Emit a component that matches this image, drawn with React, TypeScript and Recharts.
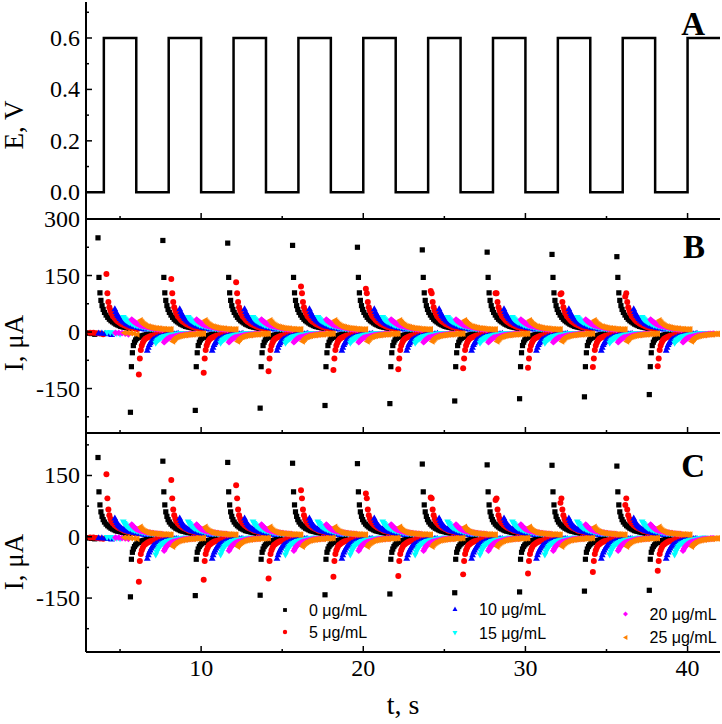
import { ScatterChart, Scatter, LineChart, Line, XAxis, YAxis, Legend } from 'recharts'

const SERIF = '"Liberation Serif", "Times New Roman", serif'
const SANS = '"Liberation Sans", Arial, sans-serif'

// shared time axis, s
const T_DOMAIN = [2.9, 42]
const T_TICKS = [5, 10, 15, 20, 25, 30, 35, 40]

// panel A: potential steps
const E_T = [2.9, 4, 6, 8, 10, 12, 14, 16, 18, 20, 22, 24, 26, 28, 30, 32, 34, 36, 38, 40, 42]
const E_V = [0, 0.6, 0, 0.6, 0, 0.6, 0, 0.6, 0, 0.6, 0, 0.6, 0, 0.6, 0, 0.6, 0, 0.6, 0, 0.6, 0.6]
const E_TICKS = [0, 0.1, 0.2, 0.3, 0.4, 0.5, 0.6, 0.7]

// current transients (panels B and C)
const SERIES_NAMES = ['0 μg/mL', '5 μg/mL', '10 μg/mL', '15 μg/mL', '20 μg/mL', '25 μg/mL']
const SERIES_COLORS = ['#000000', '#ff0000', '#0000ff', '#00ffff', '#ff00ff', '#ff8000']
const SERIES_MARKERS = ['square', 'circle', 'up', 'down', 'diamond', 'left']
const SERIES_SHIFT = [0, 0.52, 1.04, 1.56, 2.08, 2.6]
const PULSE_START = [3.64, 7.64, 11.64, 15.64, 19.64, 23.64, 27.64, 31.64, 35.64]
const HALF_PERIOD = 2
const TAIL_T = [0, 0.06, 0.12, 0.18, 0.25, 0.32, 0.4, 0.5, 0.6, 0.7, 0.8, 0.9, 1.0, 1.1, 1.2, 1.3, 1.4, 1.5, 1.6, 1.7, 1.8, 1.9]
const REST_T = [-1.0, -0.8, -0.6, -0.4, -0.2]

const I_TICKS_B = [-225, -150, -75, 0, 75, 150, 225, 300]
const I_TICKS_C = [-225, -150, -75, 0, 75, 150, 225]

const REST_B = [-2, -2, -3, -4, -6]
const POS_B = [
  [250, 145, 104, 84, 70, 60, 52, 45, 39, 34, 30, 27, 24, 21, 19, 17, 15, 14, 13, 12, 11, 10],
  [154, 103, 80, 66, 57, 49, 42, 37, 32, 28, 25, 22, 20, 18, 16, 14, 13, 12, 11, 10, 9, 8],
  [62, 55, 49, 44, 40, 36, 32, 29, 26, 23, 21, 19, 17, 16, 15, 14, 13, 12, 11, 10, 9, 8],
  [38, 35, 32, 30, 28, 26, 24, 22, 20, 18, 17, 16, 15, 14, 13, 12, 11, 10, 9, 8, 8, 7],
  [33, 30, 28, 26, 24, 22, 20, 18, 17, 16, 15, 14, 13, 12, 11, 10, 9, 8, 8, 7, 7, 6],
  [31, 27, 24, 21, 19, 17, 15, 14, 13, 12, 11, 10, 10, 9, 9, 8, 8, 8, 7, 7, 7, 7],
]
const NEG_B = [
  [-213, -92, -55, -36, -27, -21, -17, -14, -12, -10, -9, -8, -7, -6, -6, -5, -5, -4, -4, -4, -3, -3],
  [-113, -70, -48, -36, -28, -22, -18, -15, -13, -11, -10, -9, -8, -7, -6, -6, -5, -5, -4, -4, -4, -3],
  [-48, -40, -33, -28, -24, -21, -18, -16, -14, -12, -11, -10, -9, -8, -7, -6, -6, -5, -5, -4, -4, -3],
  [-30, -26, -23, -21, -19, -17, -15, -13, -12, -11, -10, -9, -8, -7, -7, -6, -6, -5, -5, -4, -4, -4],
  [-27, -24, -21, -19, -17, -15, -14, -13, -12, -11, -10, -9, -8, -8, -7, -7, -6, -6, -5, -5, -5, -4],
  [-25, -21, -18, -15, -13, -12, -11, -10, -9, -8, -8, -7, -7, -6, -6, -6, -5, -5, -5, -5, -4, -4],
]
const BLACK_POS_PEAK_B = [250, 243, 236, 230, 225, 218, 212, 206, 200]
const BLACK_NEG_PEAK_B = [-213, -208, -202, -195, -190, -183, -177, -172, -166]
const RED_POS_PEAK_B = [154, 141, 132, 121, 115, 109, 103, 100, 94]
const RED_NEG_PEAK_B = [-113, -108, -104, -101, -99, -96, -95, -93, -91]

const REST_C = [-2, -2, -3, -4, -5]
const POS_C = [
  [194, 110, 78, 61, 50, 42, 36, 31, 27, 24, 21, 19, 17, 15, 14, 13, 12, 11, 10, 9, 8, 8],
  [153, 94, 67, 53, 44, 38, 33, 29, 26, 23, 21, 19, 17, 15, 14, 13, 12, 11, 10, 9, 8, 8],
  [46, 40, 35, 31, 28, 25, 22, 20, 18, 16, 15, 14, 13, 12, 11, 10, 9, 8, 8, 7, 7, 6],
  [36, 32, 29, 26, 24, 22, 20, 18, 16, 15, 14, 13, 12, 11, 10, 9, 9, 8, 8, 7, 7, 6],
  [30, 27, 24, 22, 20, 18, 17, 15, 14, 13, 12, 11, 10, 10, 9, 9, 8, 8, 7, 7, 6, 6],
  [24, 20, 17, 15, 13, 12, 11, 10, 9, 9, 8, 8, 7, 7, 7, 6, 6, 6, 6, 5, 5, 5],
]
const NEG_C = [
  [-147, -55, -38, -30, -24, -20, -17, -14, -12, -10, -9, -8, -7, -6, -6, -5, -5, -4, -4, -4, -3, -3],
  [-110, -59, -42, -33, -26, -21, -18, -15, -13, -11, -10, -9, -8, -7, -6, -6, -5, -5, -4, -4, -4, -3],
  [-52, -44, -37, -32, -27, -23, -20, -17, -15, -13, -11, -10, -9, -8, -7, -6, -6, -5, -5, -4, -4, -4],
  [-45, -38, -33, -28, -24, -21, -18, -16, -14, -12, -11, -10, -9, -8, -7, -6, -6, -5, -5, -4, -4, -4],
  [-34, -29, -25, -22, -19, -17, -15, -13, -12, -11, -10, -9, -8, -7, -6, -6, -5, -5, -5, -4, -4, -4],
  [-24, -20, -17, -15, -13, -11, -10, -9, -8, -7, -7, -6, -6, -5, -5, -5, -4, -4, -4, -4, -3, -3],
]
const BLACK_POS_PEAK_C = [194, 185, 182, 180, 179, 178, 176, 175, 173]
const BLACK_NEG_PEAK_C = [-147, -144, -143, -142, -140, -137, -135, -133, -131]
const RED_POS_PEAK_C = [153, 139, 126, 114, 106, 96, 90, 83, 78]
const RED_NEG_PEAK_C = [-110, -105, -102, -98, -96, -92, -90, -86, -83]

type Pt = { t: number; i: number }

// lay each series' transient shape onto every pulse; the first point of the
// black and red transients is taken per pulse since it drifts down over time
function buildCurrent(
  pos: number[][],
  neg: number[][],
  rest: number[],
  posPeaks: (number[] | null)[],
  negPeaks: (number[] | null)[],
): Pt[][] {
  return SERIES_NAMES.map((_, s) => {
    const pts: Pt[] = []
    const first = PULSE_START[0] + SERIES_SHIFT[s]
    REST_T.forEach((dt, j) => pts.push({ t: first + dt, i: rest[j] }))
    PULSE_START.forEach((p, k) => {
      const t0 = p + SERIES_SHIFT[s]
      const pp = posPeaks[s]
      const np = negPeaks[s]
      TAIL_T.forEach((dt, j) => pts.push({ t: t0 + dt, i: j === 0 && pp ? pp[k] : pos[s][j] }))
      TAIL_T.forEach((dt, j) =>
        pts.push({ t: t0 + HALF_PERIOD + dt, i: j === 0 && np ? np[k] : neg[s][j] }),
      )
    })
    return pts
  })
}

const DATA_B = buildCurrent(
  POS_B, NEG_B, REST_B,
  [BLACK_POS_PEAK_B, RED_POS_PEAK_B, null, null, null, null],
  [BLACK_NEG_PEAK_B, RED_NEG_PEAK_B, null, null, null, null],
)
const DATA_C = buildCurrent(
  POS_C, NEG_C, REST_C,
  [BLACK_POS_PEAK_C, RED_POS_PEAK_C, null, null, null, null],
  [BLACK_NEG_PEAK_C, RED_NEG_PEAK_C, null, null, null, null],
)
const DATA_E = E_T.map((t, k) => ({ t, e: E_V[k] }))

function Marker({ kind, cx, cy, color, r }: { kind: string; cx: number; cy: number; color: string; r: number }) {
  switch (kind) {
    case 'square':
      return <rect x={cx - r} y={cy - r} width={2 * r} height={2 * r} fill={color} />
    case 'circle':
      return <circle cx={cx} cy={cy} r={r * 1.15} fill={color} />
    case 'up':
      return <polygon points={`${cx},${cy - 1.3 * r} ${cx + 1.3 * r},${cy + r} ${cx - 1.3 * r},${cy + r}`} fill={color} />
    case 'down':
      return <polygon points={`${cx},${cy + 1.3 * r} ${cx + 1.3 * r},${cy - r} ${cx - 1.3 * r},${cy - r}`} fill={color} />
    case 'diamond':
      return <polygon points={`${cx},${cy - 1.3 * r} ${cx + 1.3 * r},${cy} ${cx},${cy + 1.3 * r} ${cx - 1.3 * r},${cy}`} fill={color} />
    default:
      return <polygon points={`${cx - 1.3 * r},${cy} ${cx + r},${cy - 1.3 * r} ${cx + r},${cy + 1.3 * r}`} fill={color} />
  }
}

function XTick(props: any) {
  const { x, y, payload, showLabel } = props
  const major = payload.value % 10 === 0
  return (
    <g>
      <line x1={x} x2={x} y1={y} y2={y - (major ? 6 : 3)} stroke="#000" strokeWidth={1.5} />
      {showLabel && major && (
        <text x={x} y={y + 24} textAnchor="middle" style={{ fontFamily: SERIF, fontSize: 24 }} fill="#000">
          {payload.value}
        </text>
      )}
    </g>
  )
}

function YTick(props: any) {
  const { x, y, payload, isMajor, fmt } = props
  const major = isMajor(payload.value)
  return (
    <g>
      <line x1={x} x2={x + (major ? 6 : 3)} y1={y} y2={y} stroke="#000" strokeWidth={1.5} />
      {major && (
        <text x={x - 6} y={y + 8} textAnchor="end" style={{ fontFamily: SERIF, fontSize: 24 }} fill="#000">
          {fmt(payload.value)}
        </text>
      )}
    </g>
  )
}

const axisLine = { stroke: '#000', strokeWidth: 2 }
const W = 722
const H = 724

function timeAxis(showLabel: boolean, height: number) {
  return (
    <XAxis
      dataKey="t"
      type="number"
      domain={T_DOMAIN}
      ticks={T_TICKS}
      interval={0}
      allowDataOverflow
      height={height}
      tickSize={0}
      tickMargin={0}
      tickLine={false}
      axisLine={axisLine}
      tick={(p: any) => <XTick {...p} showLabel={showLabel} />}
    />
  )
}

function rightBorder() {
  return <YAxis yAxisId="r" orientation="right" type="number" domain={[0, 1]} width={0} tick={false} tickLine={false} axisLine={axisLine} />
}

const isMajorE = (v: number) => Math.round(v * 10) % 2 === 0
const isMajorI = (v: number) => v % 150 === 0

const LEGEND_X = [285, 455, 625.5]
const LEGEND_Y = [[610, 632], [609, 633], [614, 637.5]]

function LegendGrid({ payload }: any) {
  return (
    <svg width={W} height={H} style={{ position: 'absolute', left: 0, top: 0 }}>
      {(payload ?? []).map((entry: any) => {
        const s = SERIES_NAMES.indexOf(entry.value)
        if (s < 0) return null
        const col = Math.floor(s / 2)
        const row = s % 2
        const mx = LEGEND_X[col]
        const my = LEGEND_Y[col][row]
        return (
          <g key={entry.value}>
            <Marker kind={SERIES_MARKERS[s]} cx={mx} cy={my} color={SERIES_COLORS[s]} r={1.9} />
            <text x={mx + 24} y={my + 5.5} style={{ fontFamily: SANS, fontSize: 16 }} fill="#000">
              {entry.value}
            </text>
          </g>
        )
      })}
    </svg>
  )
}

function CurrentScatters({ data }: { data: Pt[][] }) {
  return (
    <>
      {data.map((pts, s) => (
        <Scatter
          key={SERIES_NAMES[s]}
          name={SERIES_NAMES[s]}
          data={pts}
          fill={SERIES_COLORS[s]}
          isAnimationActive={false}
          shape={(p: any) => <Marker kind={SERIES_MARKERS[s]} cx={p.cx} cy={p.cy} color={SERIES_COLORS[s]} r={2.6} />}
        />
      ))}
    </>
  )
}

const layer: React.CSSProperties = { position: 'absolute', left: 0, top: 0 }

export default function App() {
  return (
    <div style={{ position: 'absolute', left: 0, top: 0, width: W, height: H, background: '#fff' }}>
      {/* A: potential program */}
      <div style={layer}>
        <LineChart width={W} height={H} data={DATA_E} margin={{ top: 2, right: 2, bottom: 504, left: 0 }}>
          <XAxis xAxisId="top" orientation="top" dataKey="t" type="number" domain={T_DOMAIN} height={0} tick={false} tickLine={false} axisLine={axisLine} />
          {timeAxis(false, 1)}
          <YAxis
            type="number"
            domain={[-0.104, 0.74]}
            ticks={E_TICKS}
            interval={0}
            width={86}
            tickSize={0}
            tickMargin={0}
            tickLine={false}
            axisLine={axisLine}
            tick={(p: any) => <YTick {...p} isMajor={isMajorE} fmt={(v: number) => v.toFixed(1)} />}
          />
          {rightBorder()}
          <Line type="stepAfter" dataKey="e" stroke="#000" strokeWidth={2.5} dot={false} isAnimationActive={false} />
        </LineChart>
      </div>

      {/* B */}
      <div style={layer}>
        <ScatterChart width={W} height={H} margin={{ top: 219, right: 2, bottom: 290, left: 0 }}>
          {timeAxis(false, 1)}
          <YAxis
            dataKey="i"
            type="number"
            domain={[-268, 300]}
            ticks={I_TICKS_B}
            interval={0}
            allowDataOverflow
            width={86}
            tickSize={0}
            tickMargin={0}
            tickLine={false}
            axisLine={axisLine}
            tick={(p: any) => <YTick {...p} isMajor={isMajorI} fmt={(v: number) => String(v)} />}
          />
          {rightBorder()}
          {CurrentScatters({ data: DATA_B })}
        </ScatterChart>
      </div>

      {/* C */}
      <div style={layer}>
        <ScatterChart width={W} height={H} margin={{ top: 433, right: 2, bottom: 0, left: 0 }}>
          {timeAxis(true, 72)}
          <YAxis
            dataKey="i"
            type="number"
            domain={[-282, 254]}
            ticks={I_TICKS_C}
            interval={0}
            allowDataOverflow
            width={86}
            tickSize={0}
            tickMargin={0}
            tickLine={false}
            axisLine={axisLine}
            tick={(p: any) => <YTick {...p} isMajor={isMajorI} fmt={(v: number) => String(v)} />}
          />
          {rightBorder()}
          {CurrentScatters({ data: DATA_C })}
          <Legend
            layout="horizontal"
            verticalAlign="middle"
            align="center"
            content={(p: any) => <LegendGrid {...p} />}
            wrapperStyle={{ left: 0, top: 0, width: W, height: H, pointerEvents: 'none' }}
          />
        </ScatterChart>
      </div>

      {/* axis titles and panel letters */}
      <svg width={W} height={H} style={{ ...layer, pointerEvents: 'none' }}>
        <g style={{ fontFamily: SERIF }} fill="#000">
          <text transform="translate(23,125) rotate(-90)" textAnchor="middle" fontSize={27}>E, V</text>
          <text transform="translate(23,343) rotate(-90)" textAnchor="middle" fontSize={27}>I, μA</text>
          <text transform="translate(23,562) rotate(-90)" textAnchor="middle" fontSize={27}>I, μA</text>
          <text x={403} y={714} textAnchor="middle" fontSize={28}>t, s</text>
          <text x={705} y={35} textAnchor="end" fontSize={33} fontWeight="bold">A</text>
          <text x={705} y={258} textAnchor="end" fontSize={33} fontWeight="bold">B</text>
          <text x={705} y={477} textAnchor="end" fontSize={33} fontWeight="bold">C</text>
        </g>
      </svg>
    </div>
  )
}
